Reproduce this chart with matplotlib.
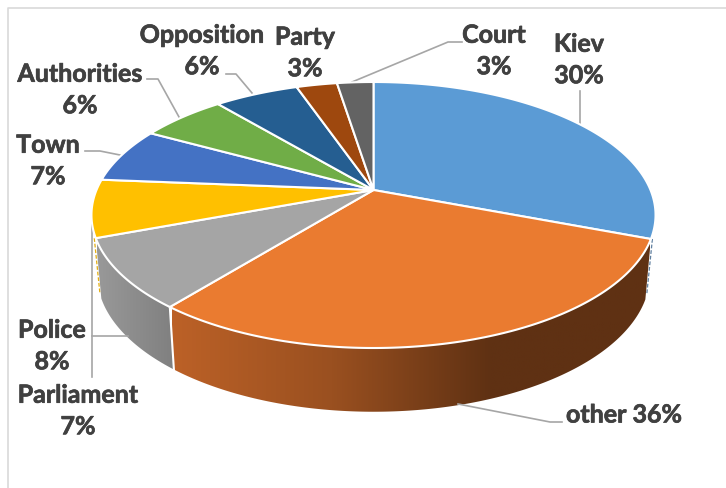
import numpy as np
import matplotlib
matplotlib.use("Agg")
import matplotlib.pyplot as plt
import matplotlib.patheffects as pe
from matplotlib.colors import LinearSegmentedColormap
from matplotlib.patches import Polygon

# Data: slice shares as drawn, and the labels as printed
categories = ["Kiev", "other", "Police", "Parliament", "Town",
              "Authorities", "Opposition", "Party", "Court"]
drawn_shares = [30.8, 30.0, 8.5, 7.0, 6.7, 5.9, 5.8, 2.8, 2.5]
printed_pct = ["30%", "36%", "8%", "7%", "7%", "6%", "6%", "3%", "3%"]
colors = ["#5B9BD5", "#EA7B30", "#A5A5A5", "#FFC000", "#4472C4",
          "#70AD47", "#255E91", "#9E480E", "#636363"]

# Layout in pixels
CX, CY = 373.5, 191.0
A, B, K = 277.0, 128.3, 0.188
TEXT = "#404040"
LEAD = "#A6A6A6"
FS = 18.0
plt.rcParams["font.family"] = ["Lato", "DejaVu Sans"]

fig = plt.figure(figsize=(7.26, 4.89), dpi=100)
ax = fig.add_axes([0, 0, 1, 1])
ax.set_xlim(0, 726)
ax.set_ylim(489, 0)
ax.axis("off")


def top_xy(theta):
    x, y = np.sin(theta), np.cos(theta)
    w = 1 + K * y
    return CX + A * x / w, CY - B * y / w


def bottom_xy(theta):
    px, py = top_xy(theta)
    return CX + (px - CX) * 0.98, CY + (py - CY) * 1.03 + 59


fractions = np.array(drawn_shares) / sum(drawn_shares)
edges = np.concatenate([[0], np.cumsum(fractions)]) * 2 * np.pi

# Frame of the original picture
ax.plot([7.5, 7.5, 726], [489, 8.5, 8.5], color="#D9D9D9", lw=1.2, zorder=1)

# Side wall (front-facing slices only)
side_maps = {
    1: (LinearSegmentedColormap.from_list("o", ["#BC6127", "#9A5020", "#5F3113", "#5F3113"]), 172, 650),
    2: (LinearSegmentedColormap.from_list("g", ["#999999", "#7F7F7F"]), 97, 176),
}
for i, (cmap, x0, x1) in side_maps.items():
    t = np.linspace(edges[i], edges[i + 1], 200)
    tx, ty = top_xy(t)
    bx, by = bottom_xy(t)
    poly = np.column_stack([np.r_[tx, bx[::-1]], np.r_[ty, by[::-1]]])
    patch = Polygon(poly, closed=True, transform=ax.transData, facecolor="none", edgecolor="none")
    ax.add_patch(patch)
    im = ax.imshow(np.linspace(0, 1, 256)[None, :], cmap=cmap,
                   extent=[x0, x1, 420, 230], aspect="auto", zorder=2)
    im.set_clip_path(patch)
ax.set_xlim(0, 726)
ax.set_ylim(489, 0)

# White separator on the wall between the two front slices
tx, ty = top_xy(edges[2])
bx, by = bottom_xy(edges[2])
ax.plot([tx, bx], [ty, by], color="white", lw=1.5, zorder=3)

# Thin slivers of hidden walls
for i, c in [(3, "#E3AE10"), (0, "#5F7F9F")]:
    e = edges[i] if i == 3 else edges[1]
    tx, ty = top_xy(e)
    bx, by = bottom_xy(e)
    sx = 1.5 if i == 0 else -1.5
    ax.plot([tx + sx, bx + sx], [ty, by - 6], color=c, lw=0.9, ls=(0, (3, 1.5)), zorder=1.5)

# Top surface
for i, c in enumerate(colors):
    t = np.linspace(edges[i], edges[i + 1], 200)
    tx, ty = top_xy(t)
    ax.fill(np.r_[CX, tx], np.r_[CY, ty], facecolor=c, edgecolor="white",
            lw=1.5, joinstyle="round", zorder=4)

# Leader lines
leaders = {
    "Kiev": [(580, 125), (580, 92)],
    "other": [(458, 405), (550, 423), (562, 423)],
    "Police": [(128, 337), (92, 337)],
    "Parliament": [(92, 222), (92, 378)],
    "Town": [(120, 156), (100, 152), (85, 152)],
    "Authorities": [(179, 118), (158, 80), (147, 80)],
    "Opposition": [(252, 94), (236, 75), (226, 75)],
    "Court": [(352, 83), (448, 43), (462, 43)],
}
for pts in leaders.values():
    xs, ys = zip(*pts)
    ax.plot(xs, ys, color=LEAD, lw=1.2, zorder=3.5, solid_joinstyle="round")

# Labels: centre position in pixels
label_pos = {
    "Kiev": (579, 61, "two"),
    "other": (624, 416, "one"),
    "Police": (52, 347, "two"),
    "Parliament": (78, 412, "two"),
    "Town": (48, 162, "two"),
    "Authorities": (80, 91, "two"),
    "Opposition": (202, 52, "two"),
    "Party": (305, 54, "two"),
    "Court": (494, 52, "two"),
}
for name, pct in zip(categories, printed_pct):
    x, y, mode = label_pos[name]
    s = f"{name} {pct}" if mode == "one" else f"{name}\n{pct}"
    ax.text(x, y, s, ha="center", va="center", fontsize=FS, fontweight="bold",
            color=TEXT, linespacing=1.45, zorder=6,
            path_effects=[pe.withStroke(linewidth=0.5, foreground=TEXT)])

fig.savefig("out.png", dpi=100, facecolor="white")
